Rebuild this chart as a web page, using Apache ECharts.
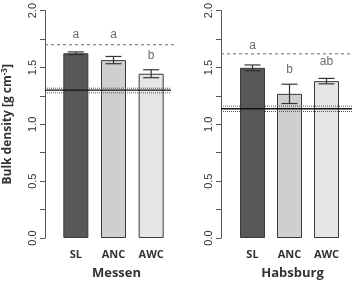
<!DOCTYPE html>
<html>
<head>
<meta charset="utf-8">
<script src="https://cdn.jsdelivr.net/npm/echarts@6/dist/echarts.min.js"></script>
<style>
  html, body { margin: 0; padding: 0; background: #fff; }
  #chart { width: 352px; height: 285px; }
</style>
</head>
<body>
<div id="chart"></div>
<script>
// data
const categories = ['SL', 'ANC', 'AWC'];
const sites = ['Messen', 'Habsburg'];

const messenMean = [1.625, 1.565, 1.445];
const messenErr = [0.012, 0.032, 0.035];
const messenLetters = ['a', 'a', 'b'];
const messenLetterY = [1.79, 1.79, 1.60];
// reference lines: [value, kind] kind 0 = dashed, 1 = solid, 2 = dotted
const messenRef = [[1.70, 0], [1.30, 1], [1.318, 2], [1.277, 2]];

const habsburgMean = [1.497, 1.268, 1.38];
const habsburgErr = [0.025, 0.085, 0.024];
const habsburgLetters = ['a', 'b', 'ab'];
const habsburgLetterY = [1.69, 1.48, 1.55];
const habsburgRef = [[1.62, 0], [1.137, 1], [1.16, 2], [1.113, 2]];

const barColors = ['#585858', '#cfcfcf', '#e6e6e6'];
const yTicks = { min: 0, max: 2, interval: 0.25 };

// grid geometry
const grids = [
    { left: 57, width: 113, top: 7, bottom: 39 },
    { left: 234, width: 111, top: 7, bottom: 39 }
];
const axisOffsets = [12, 13];
const lineExtraRight = [[6, 1], [7, 7]]; // dashed / other lines

function errorBarSeries(idx, mean, err) {
    return {
        type: 'custom',
        xAxisIndex: idx,
        yAxisIndex: idx,
        z: 5,
        data: mean.map((m, i) => [i, m, err[i]]),
        renderItem: function (params, api) {
            const i = api.value(0), m = api.value(1), e = api.value(2);
            const top = api.coord([i, m + e]);
            const bot = api.coord([i, m - e]);
            const half = 8;
            const st = { stroke: '#333', lineWidth: 1.2 };
            return {
                type: 'group',
                children: [
                    { type: 'line', shape: { x1: top[0], y1: top[1], x2: bot[0], y2: bot[1] }, style: st },
                    { type: 'line', shape: { x1: top[0] - half, y1: top[1], x2: top[0] + half, y2: top[1] }, style: st },
                    { type: 'line', shape: { x1: bot[0] - half, y1: bot[1], x2: bot[0] + half, y2: bot[1] }, style: st }
                ]
            };
        }
    };
}

function refLineSeries(idx, refs) {
    return {
        type: 'custom',
        xAxisIndex: idx,
        yAxisIndex: idx,
        z: 6,
        clip: false,
        data: refs.map(r => [0, r[0], r[1]]),
        renderItem: function (params, api) {
            const kind = api.value(2);
            const p = api.coord([0, api.value(1)]);
            const cs = params.coordSys;
            const x1 = cs.x - axisOffsets[idx];
            const x2 = cs.x + cs.width + (kind === 0 ? lineExtraRight[idx][0] : lineExtraRight[idx][1]);
            let style;
            if (kind === 0) style = { stroke: '#666', lineWidth: 1, lineDash: [3, 3] };
            else if (kind === 1) style = { stroke: '#111', lineWidth: 1.3 };
            else style = { stroke: '#555', lineWidth: 1, lineDash: [1, 1] };
            return { type: 'line', shape: { x1: x1, y1: p[1], x2: x2, y2: p[1] }, style: style };
        }
    };
}

function letterSeries(idx, letters, ys) {
    return {
        type: 'scatter',
        xAxisIndex: idx,
        yAxisIndex: idx,
        symbolSize: 0,
        z: 7,
        data: letters.map((l, i) => ({ value: [i, ys[i]], name: l })),
        label: {
            show: true,
            position: 'inside',
            formatter: p => p.name,
            fontFamily: 'Liberation Sans',
            fontSize: 12,
            color: '#444'
        }
    };
}

function barSeries(idx, mean) {
    return {
        type: 'bar',
        xAxisIndex: idx,
        yAxisIndex: idx,
        barWidth: 25,
        z: 2,
        data: mean.map((v, i) => ({
            value: v,
            itemStyle: { color: barColors[i], borderColor: '#3a3a3a', borderWidth: 1 }
        }))
    };
}

const xAxes = sites.map((s, idx) => ({
    type: 'category',
    gridIndex: idx,
    data: categories,
    boundaryGap: true,
    axisLine: { show: false },
    axisTick: { show: false },
    axisLabel: {
        margin: 11,
        fontFamily: 'Open Sans',
        fontWeight: 'bold',
        fontSize: 11,
        color: '#333'
    },
    name: s,
    nameLocation: 'middle',
    nameGap: 29,
    nameTextStyle: {
        fontFamily: 'Open Sans',
        fontWeight: 'bold',
        fontSize: 13,
        color: '#333',
        padding: [0, 0, 0, 6]
    }
}));

const yAxes = sites.map((s, idx) => ({
    type: 'value',
    gridIndex: idx,
    min: yTicks.min,
    max: yTicks.max,
    interval: yTicks.interval,
    offset: axisOffsets[idx],
    splitLine: { show: false },
    axisLine: { show: true, lineStyle: { color: '#555', width: 1 } },
    axisTick: { show: true, length: 5, lineStyle: { color: '#555' } },
    axisLabel: {
        rotate: 90,
        margin: 7,
        fontFamily: 'Liberation Sans',
        fontSize: 11,
        color: '#333',
        formatter: v => (Math.abs(v * 2 - Math.round(v * 2)) < 1e-6 ? v.toFixed(1) : '')
    },
    name: idx === 0 ? 'Bulk density [g cm{sup|-3}]' : '',
    nameLocation: 'middle',
    nameRotate: 90,
    nameGap: 30,
    nameTextStyle: {
        fontFamily: 'Open Sans',
        fontWeight: 'bold',
        fontSize: 12,
        color: '#333',
        rich: {
            sup: { fontFamily: 'Open Sans', fontWeight: 'bold', fontSize: 8, color: '#333', verticalAlign: 'top', padding: [0, 0, 6, 0] }
        }
    }
}));

const option = {
    animation: false,
    grid: grids,
    xAxis: xAxes,
    yAxis: yAxes,
    series: [
        barSeries(0, messenMean),
        errorBarSeries(0, messenMean, messenErr),
        refLineSeries(0, messenRef),
        letterSeries(0, messenLetters, messenLetterY),
        barSeries(1, habsburgMean),
        errorBarSeries(1, habsburgMean, habsburgErr),
        refLineSeries(1, habsburgRef),
        letterSeries(1, habsburgLetters, habsburgLetterY)
    ]
};

var myChart = echarts.init(document.getElementById('chart'));
myChart.setOption(option);
</script>
</body>
</html>
